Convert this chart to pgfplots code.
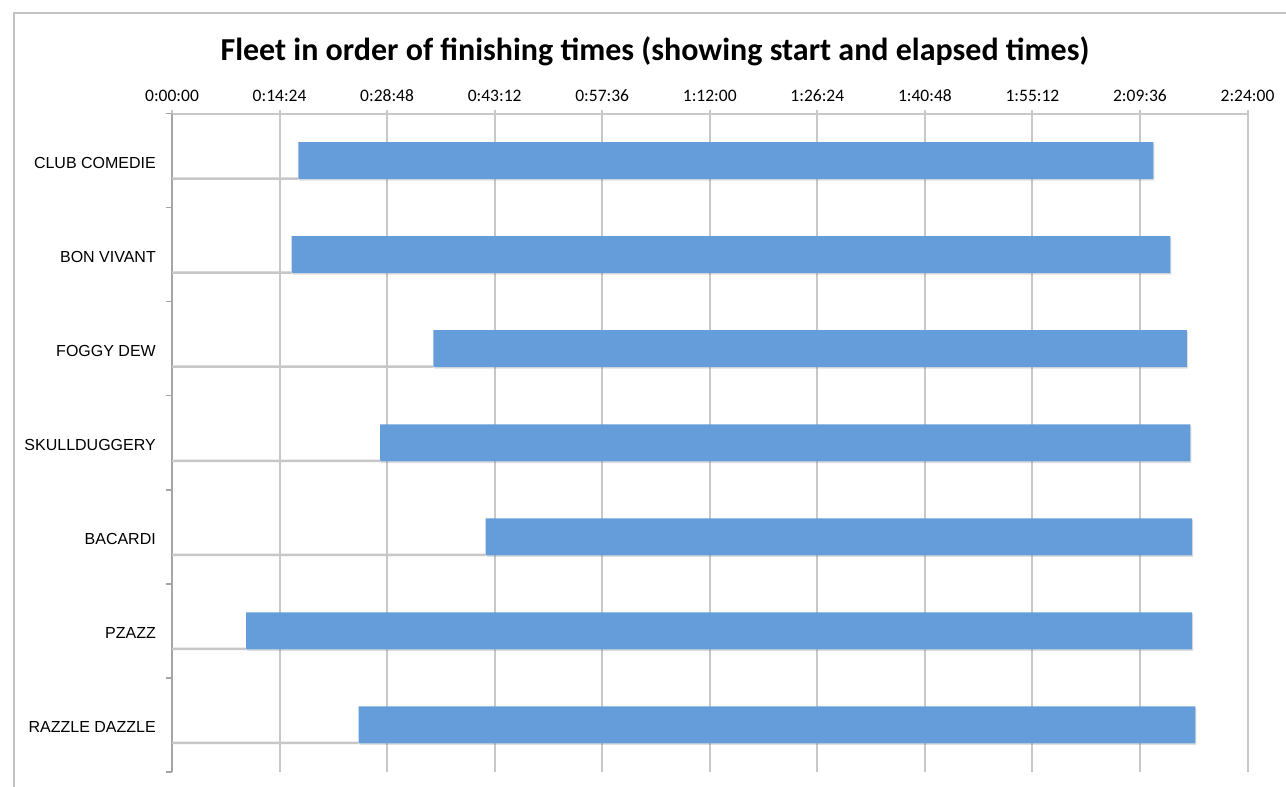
\documentclass[border=0pt]{standalone}
\usepackage{fontspec}
\setmainfont{Carlito}
\newfontfamily\arial{Liberation Sans}
\usepackage{pgfplots}
\pgfplotsset{compat=1.18}
\usepackage{pgfplotstable}
\usetikzlibrary{shadows}
\definecolor{barblue}{RGB}{101,157,218}
\definecolor{gridgray}{RGB}{200,200,200}
\definecolor{axisgray}{RGB}{165,165,165}
\definecolor{framegray}{RGB}{195,195,195}

\pgfplotstableread{
idx start elapsed
0 1015 6868
1 960  7061
2 2100 6052
3 1672 6509
4 2520 5674
5 595  7599
6 1500 6721
}\fleet

\begin{document}
\begin{tikzpicture}
\useasboundingbox (0,0) rectangle (1286pt,-787pt);
\fill[white] (0,0) rectangle (1286pt,-787pt);
\draw[framegray, line width=2pt] (13.5pt,-800pt) -- (13.5pt,-12.5pt) -- (1300pt,-12.5pt);
\node[font=\fontsize{32}{36}\selectfont\bfseries, anchor=base, inner sep=0pt] at (655pt,-60pt) {Fleet in order of finishing times (showing start and elapsed times)};
\begin{axis}[
  at={(172pt,-113.5pt)}, anchor=north west,
  scale only axis, width=1075.5pt, height=658.5pt,
  xbar stacked, bar width=37pt,
  xmin=0, xmax=8640, ymin=-0.5, ymax=6.5, y dir=reverse,
  axis x line*=top, axis y line*=left,
  xtick={0,864,...,8640},
  xticklabels={0:00:00,0:14:24,0:28:48,0:43:12,0:57:36,1:12:00,1:26:24,1:40:48,1:55:12,2:09:36,2:24:00},
  ytick={0,...,6},
  yticklabels={CLUB COMEDIE,BON VIVANT,FOGGY DEW,SKULLDUGGERY,BACARDI,PZAZZ,RAZZLE DAZZLE},
  minor ytick={-0.5,0.5,...,6.5},
  tick align=outside,
  major tick length=4pt, minor tick length=6pt,
  major y tick style={draw=none},
  minor y tick style={draw=axisgray, line width=1.5pt},
  major x tick style={draw=gridgray, line width=2pt},
  xmajorgrids, major x grid style={gridgray, line width=2pt},
  x axis line style={gridgray, line width=2pt},
  y axis line style={axisgray, line width=2pt},
  xticklabel style={font=\fontsize{17.5}{20}\selectfont, inner sep=0pt, yshift=8pt},
  yticklabel style={font=\arial\fontsize{16}{19}\selectfont, inner sep=0pt, xshift=-12pt, yshift=-2pt},
  clip=false,
]
\addplot[fill=none, draw=none] table[x=start, y=idx] {\fleet};
\addplot[fill=barblue, draw=none,
  drop shadow={shadow xshift=1pt, shadow yshift=-1.5pt, opacity=0.25}]
  table[x=elapsed, y=idx] {\fleet};
\end{axis}
\begin{axis}[
  at={(172pt,-113.5pt)}, anchor=north west,
  scale only axis, width=1075.5pt, height=658.5pt,
  xmin=0, xmax=8640, ymin=-0.5, ymax=6.5, y dir=reverse,
  hide axis, clip=false,
  xbar, bar width=2.5pt, bar shift=-18pt,
]
\addplot[fill=black!22, draw=none] table[x=start, y=idx] {\fleet};
\end{axis}
\end{tikzpicture}
\end{document}
